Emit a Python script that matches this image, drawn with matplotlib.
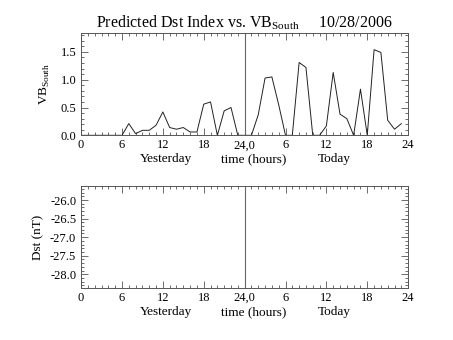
import matplotlib
matplotlib.use("Agg")
import matplotlib.pyplot as plt
from matplotlib.ticker import MultipleLocator, FixedLocator, FixedFormatter
import numpy as np

plt.rcParams['font.family'] = ['Liberation Serif', 'DejaVu Serif']
plt.rcParams['mathtext.fontset'] = 'custom'
plt.rcParams['mathtext.rm'] = 'Liberation Serif'

# Hours since start of yesterday (0..47)
hours = list(range(48))
vb_south = [0, 0, 0, 0, 0, 0, 0, 0.21, 0.03, 0.09, 0.09, 0.18, 0.42, 0.14, 0.11, 0.14,
            0.06, 0.06, 0.56, 0.60, 0, 0.44, 0.50, 0, 0, 0, 0.37, 1.03, 1.05, 0.55,
            0, 0, 1.31, 1.22, 0, 0, 0.17, 1.13, 0.38, 0.30, 0, 0.83, 0, 1.54, 1.49,
            0.27, 0.11, 0.21]
x_ticks = [0, 6, 12, 18, 24, 30, 36, 42, 48]
x_tick_labels = ['0', '6', '12', '18', '24,0', '6', '12', '18', '24']
vb_ticks = [0.0, 0.5, 1.0, 1.5]
dst_ticks = [-26.0, -26.5, -27.0, -27.5, -28.0]
title = 'Predicted Dst Index vs. VB$_{\\mathrm{South}}$     10/28/2006'

fig = plt.figure(figsize=(4.53, 3.40), dpi=100)
ax1 = fig.add_axes([0.179, 0.602, 0.722, 0.301])
ax2 = fig.add_axes([0.179, 0.153, 0.722, 0.300])

axcol = '#555555'
for ax in (ax1, ax2):
    ax.set_xlim(0, 48)
    ax.xaxis.set_major_locator(FixedLocator(x_ticks))
    ax.xaxis.set_major_formatter(FixedFormatter(x_tick_labels))
    ax.xaxis.set_minor_locator(MultipleLocator(1))
    ax.yaxis.set_minor_locator(MultipleLocator(0.1))
    ax.tick_params(which='both', direction='in', top=True, right=True,
                   colors=axcol, labelcolor='black', labelsize=9, width=0.6)
    ax.tick_params(which='major', length=5)
    ax.tick_params(which='minor', length=2.5)
    ax.tick_params(axis='x', pad=3)
    for s in ax.spines.values():
        s.set_color(axcol)
        s.set_linewidth(0.7)
    ax.axvline(24, color='#666666', lw=0.8)
    ax.text(12.5, -0.235, 'Yesterday', transform=ax.get_xaxis_transform(),
            ha='center', va='center', fontsize=9.5)
    ax.text(25.3, -0.235, 'time (hours)', transform=ax.get_xaxis_transform(),
            ha='center', va='center', fontsize=9.5)
    ax.text(37.2, -0.235, 'Today', transform=ax.get_xaxis_transform(),
            ha='center', va='center', fontsize=9.5)

ax1.plot(hours, vb_south, color='#222222', lw=0.7)
ax1.set_ylim(0, 1.84)
ax1.yaxis.set_major_locator(FixedLocator(vb_ticks))
ax1.yaxis.set_major_formatter(matplotlib.ticker.FormatStrFormatter('%.1f'))
ax1.set_ylabel('VB$_{\\mathrm{South}}$', fontsize=9.5, labelpad=6)
ax1.set_title(title, fontsize=11.5, pad=4)

ax2.set_ylim(-28.37, -25.62)
ax2.yaxis.set_major_locator(FixedLocator(dst_ticks))
ax2.yaxis.set_major_formatter(matplotlib.ticker.FormatStrFormatter('%.1f'))
ax2.set_ylabel('Dst (nT)', fontsize=9.5, labelpad=4)

fig.savefig('out.png', dpi=100)
